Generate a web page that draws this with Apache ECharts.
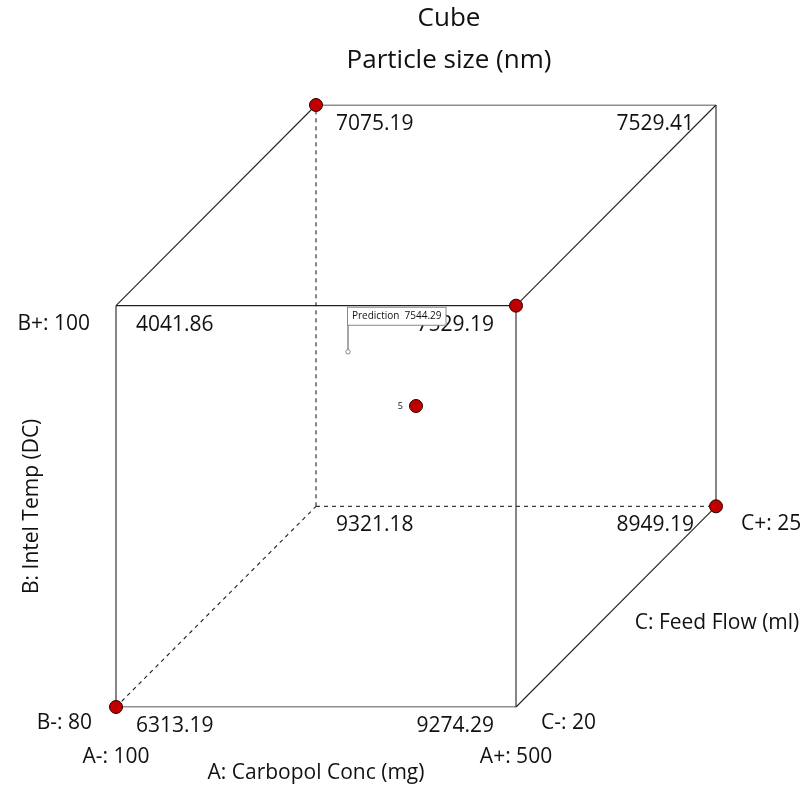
<!DOCTYPE html>
<html>
<head>
<meta charset="utf-8">
<script src="https://cdn.jsdelivr.net/npm/echarts@6/dist/echarts.min.js"></script>
<style>
  html, body { margin: 0; padding: 0; background: #fff; }
  #chart { width: 808px; height: 786px; }
</style>
</head>
<body>
<div id="chart"></div>
<script>
// Factor levels (actual units)
const aLevels = [100, 500];   // A: Carbopol Conc (mg)
const bLevels = [80, 100];    // B: Intel Temp (DC)
const cLevels = [20, 25];     // C: Feed Flow (ml)

// Corner responses: coded [A, B, C] and Particle size (nm)
const cornerCodes = [
  [-1, -1, -1], [1, -1, -1], [-1, 1, -1], [1, 1, -1],
  [-1, -1, 1],  [1, -1, 1],  [-1, 1, 1],  [1, 1, 1]
];
const cornerValues = [6313.19, 9274.29, 4041.86, 7529.19, 9321.18, 8949.19, 7075.19, 7529.41];

// Runs shown as design points (coded A, B, C)
const designPoints = [[-1, 1, 1], [1, 1, -1], [1, -1, 1], [-1, -1, -1]];
const centerPoint = [0, 0, 0];
const centerRuns = 5;

// Prediction flag
const predictionPoint = [-0.34, 0.27, 0];
const predictionValue = 7544.29;

const FONT = '"Open Sans", "Noto Sans", sans-serif';
const TXT = '#111';
const FS = 21;

// Oblique projection of coded (A, B, C) onto the plane
function proj(p) { return [p[0] + 0.5 * p[2], p[1] + 0.5 * p[2]]; }

// Cube edges: pairs of corners differing in one factor; those meeting the hidden corner are dashed
const edges = [];
for (let i = 0; i < 8; i++) {
  for (let j = i + 1; j < 8; j++) {
    const a = cornerCodes[i], b = cornerCodes[j];
    const diff = Math.abs(a[0] - b[0]) + Math.abs(a[1] - b[1]) + Math.abs(a[2] - b[2]);
    if (diff === 2) {
      const isHidden = c => c[0] === -1 && c[1] === -1 && c[2] === 1;
      edges.push({ from: a, to: b, hidden: isHidden(a) || isHidden(b) });
    }
  }
}

const series = [];
edges.forEach(e => {
  series.push({
    type: 'line', silent: true, symbol: 'none', animation: false,
    data: [proj(e.from), proj(e.to)],
    lineStyle: { color: '#222', width: 1.1, type: e.hidden ? [4, 4] : 'solid' },
    z: 1
  });
});

const plainItem = { opacity: 1 };

// Response labels at each corner, placed toward the inside of the face
series.push({
  type: 'scatter', symbolSize: 0, silent: true, animation: false, z: 3,
  itemStyle: plainItem,
  data: cornerCodes.map((c, i) => ({
    value: proj(c),
    label: {
      show: true, formatter: cornerValues[i].toFixed(2),
      position: 'inside', align: c[0] < 0 ? 'left' : 'right', verticalAlign: 'middle',
      offset: [c[0] < 0 ? 20 : -22, 19],
      fontFamily: FONT, fontSize: FS, color: TXT
    }
  }))
});

const dotStyle = { color: '#C00000', borderColor: '#2a0000', borderWidth: 1, opacity: 1 };

// Design points
series.push({
  type: 'scatter', symbol: 'circle', symbolSize: 13, silent: true, animation: false, z: 5,
  itemStyle: dotStyle,
  data: designPoints.map(proj)
});

// Center point with run count
series.push({
  type: 'scatter', symbol: 'circle', symbolSize: 13, silent: true, animation: false, z: 5,
  itemStyle: dotStyle,
  label: { show: true, position: 'left', distance: 6, formatter: String(centerRuns), fontFamily: FONT, fontSize: 9, color: TXT },
  data: [proj(centerPoint)]
});

// Factor level labels and axis names
function lvl(code, text, align, offset) {
  return {
    value: proj(code),
    label: { show: true, formatter: text, position: 'inside', align, verticalAlign: 'middle', offset, fontFamily: FONT, fontSize: FS, color: TXT }
  };
}
series.push({
  type: 'scatter', symbolSize: 0, silent: true, animation: false, z: 3,
  itemStyle: plainItem,
  data: [
    lvl([-1, 1, -1], 'B+: ' + bLevels[1], 'right', [-26, 18]),
    lvl([-1, -1, -1], 'B-: ' + bLevels[0], 'right', [-24, 16]),
    lvl([-1, -1, -1], 'A-: ' + aLevels[0], 'center', [0, 50]),
    lvl([1, -1, -1], 'A+: ' + aLevels[1], 'center', [0, 50]),
    lvl([1, -1, -1], 'C-: ' + cLevels[0], 'left', [25, 16]),
    lvl([1, -1, 1], 'C+: ' + cLevels[1], 'left', [25, 18]),
    lvl([0, -1, -1], 'A: Carbopol Conc (mg)', 'center', [0, 66]),
    lvl([1, -1, 0], 'C: Feed Flow (ml)', 'center', [101, 16]),
    {
      value: proj([-1, 0, -1]),
      label: { show: true, formatter: 'B: Intel Temp (DC)', position: 'inside', align: 'center', verticalAlign: 'middle',
        offset: [0, -84], rotate: 90, fontFamily: FONT, fontSize: FS, color: TXT }
    }
  ]
});

// Prediction flag: small marker, pole and boxed value
series.push({
  type: 'custom', silent: true, animation: false, z: 6,
  data: [proj(predictionPoint)],
  renderItem: function (params, api) {
    const pt = api.coord([api.value(0), api.value(1)]);
    const top = pt[1] - 44;
    return {
      type: 'group',
      children: [
        { type: 'line', shape: { x1: pt[0], y1: pt[1] - 2, x2: pt[0], y2: top }, style: { stroke: '#888', lineWidth: 1.5 } },
        { type: 'circle', shape: { cx: pt[0], cy: pt[1], r: 2.2 }, style: { fill: '#fff', stroke: '#888', lineWidth: 1 } },
        {
          type: 'text', x: pt[0], y: top,
          style: {
            text: 'Prediction  ' + predictionValue.toFixed(2),
            fontFamily: FONT, fontSize: 10, fill: TXT,
            align: 'left', verticalAlign: 'top',
            backgroundColor: '#fff', borderColor: '#888', borderWidth: 1,
            padding: [3, 4, 4, 4]
          }
        }
      ]
    };
  }
});

const chart = echarts.init(document.getElementById('chart'));
chart.setOption({
  backgroundColor: '#fff',
  animation: false,
  title: [
    { text: 'Cube', left: 444, textAlign: 'center', top: 1, textStyle: { fontFamily: FONT, fontSize: 26, fontWeight: 'normal', color: TXT } },
    { text: 'Particle size (nm)', left: 444, textAlign: 'center', top: 43, textStyle: { fontFamily: FONT, fontSize: 26, fontWeight: 'normal', color: TXT } }
  ],
  grid: { left: 116, right: 92, top: 105, bottom: 79 },
  xAxis: { type: 'value', min: -1.5, max: 1.5, show: false },
  yAxis: { type: 'value', min: -1.5, max: 1.5, show: false },
  series
});
</script>
</body>
</html>
